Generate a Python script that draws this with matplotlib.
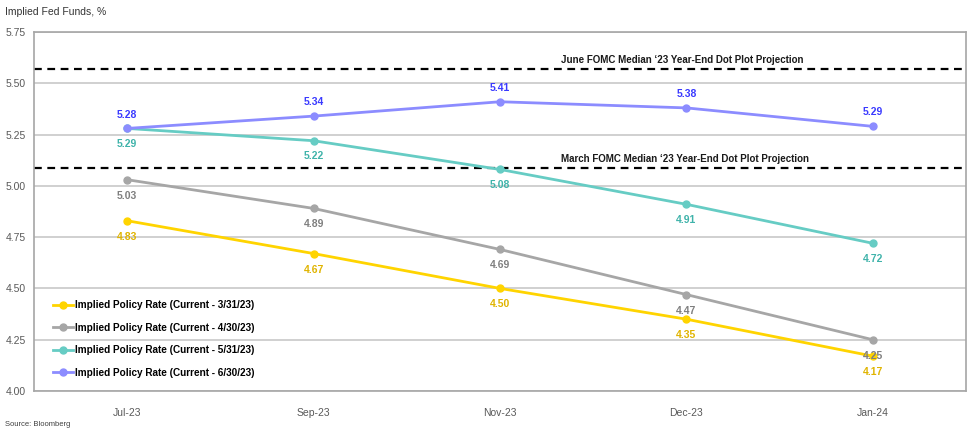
import matplotlib
matplotlib.use("Agg")
import matplotlib.pyplot as plt
from matplotlib import font_manager as fm

names = {f.name for f in fm.fontManager.ttflist}
fam = ['Liberation Sans Narrow', 'Liberation Sans', 'DejaVu Sans'] if 'Liberation Sans Narrow' in names else ['Liberation Sans', 'DejaVu Sans']
plt.rcParams['font.family'] = fam

categories = ['Jul-23', 'Sep-23', 'Nov-23', 'Dec-23', 'Jan-24']
series_names = ['Implied Policy Rate (Current - 3/31/23)',
                'Implied Policy Rate (Current - 4/30/23)',
                'Implied Policy Rate (Current - 5/31/23)',
                'Implied Policy Rate (Current - 6/30/23)']
mar = [4.83, 4.67, 4.50, 4.35, 4.17]
apr = [5.03, 4.89, 4.69, 4.47, 4.25]
may = [5.28, 5.22, 5.08, 4.91, 4.72]
may_labels = ['5.29', '5.22', '5.08', '4.91', '4.72']
jun = [5.28, 5.34, 5.41, 5.38, 5.29]
june_fomc = 5.57
march_fomc = 5.085
yticks = [4.00, 4.25, 4.50, 4.75, 5.00, 5.25, 5.50, 5.75]

line_colors = ['#ffd400', '#a6a6a6', '#66ccc4', '#8c8cff']
label_colors = ['#e0b400', '#7f7f7f', '#3fb3aa', '#3a3aff']

fig = plt.figure(figsize=(9.71, 4.34), dpi=100)
ax = fig.add_axes([34/971, 1-391/434, (966-34)/971, (391-32)/434])

x = list(range(len(categories)))
data = [mar, apr, may, jun]
for vals, name, lc in zip(data, series_names, line_colors):
    ax.plot(x, vals, color=lc, lw=2, marker='o', ms=5, label=name, zorder=3)

# value labels
offsets = [-11.5, -11.5, -11, 10]
for i, (vals, lab_c, off) in enumerate(zip(data, label_colors, offsets)):
    labs = may_labels if i == 2 else [f'{v:.2f}' for v in vals]
    for xi, v, t in zip(x, vals, labs):
        ax.annotate(t, (xi, v), xytext=(0, off), textcoords='offset points',
                    ha='center', va='center', color=lab_c, fontsize=7.5,
                    fontweight='bold', zorder=4)

ax.axhline(june_fomc, color='black', lw=1.6, ls=(0, (3.5, 2.5)), zorder=2)
ax.axhline(march_fomc, color='black', lw=1.6, ls=(0, (3.5, 2.5)), zorder=2)
ax.text(2.98, june_fomc + 0.045, 'June FOMC Median \u201823 Year-End Dot Plot Projection',
        ha='center', va='center', fontsize=7, fontweight='bold', color='#1a1a1a')
ax.text(2.99, march_fomc + 0.045, 'March FOMC Median \u201823 Year-End Dot Plot Projection',
        ha='center', va='center', fontsize=7, fontweight='bold', color='#1a1a1a')

ax.set_xlim(-0.5, 4.5)
ax.set_ylim(4.0, 5.75)
ax.set_yticks(yticks)
ax.set_yticklabels([f'{v:.2f}' for v in yticks])
ax.set_xticks(x)
ax.set_xticklabels(categories)
ax.tick_params(axis='both', length=0, labelsize=7.5, colors='#595959')
ax.tick_params(axis='x', pad=12)
ax.tick_params(axis='y', pad=6)
ax.yaxis.grid(True, color='#c8c8c8', lw=1.2, zorder=0)
ax.set_axisbelow(True)
for s in ax.spines.values():
    s.set_color('#a6a6a6')
    s.set_linewidth(1.2)

leg = ax.legend(loc='lower left', bbox_to_anchor=(0.012, 0.014), frameon=False,
                prop={'weight': 'bold', 'size': 7.2}, handlelength=2.0,
                handletextpad=0.2, labelspacing=1.25, borderpad=0.3)

fig.text(5/971, 1-12/434, 'Implied Fed Funds, %', fontsize=7.5, color='#333333', va='center')
fig.text(5/971, 1-425/434, 'Source: Bloomberg', fontsize=5.5, color='#404040', va='center')

fig.savefig('out.png', dpi=100)
